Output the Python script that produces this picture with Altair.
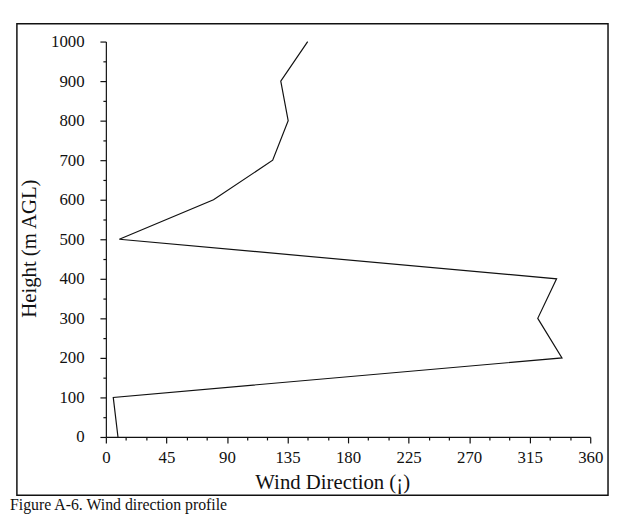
import altair as alt
import pandas as pd

# Data (wind direction profile)
heights = [0, 100, 200, 300, 400, 500, 600, 700, 800, 900, 1000]
directions = [9, 5.5, 339, 321, 335, 10, 80, 124, 135.5, 130, 150]

x_ticks = list(range(0, 361, 15))
y_ticks = list(range(0, 1001, 50))
x_title = "Wind Direction (¡)"
y_title = "Height (m AGL)"
caption = "Figure A-6. Wind direction profile"

FONT = "Liberation Serif"
INK = "#111111"

df = pd.DataFrame({"height": heights, "direction": directions})

line = alt.Chart(df).mark_line(color=INK, strokeWidth=1.2).encode(
    x=alt.X(
        "direction:Q",
        scale=alt.Scale(domain=[0, 360], nice=False, zero=False),
        axis=alt.Axis(
            values=x_ticks,
            format="d",
            labelExpr="datum.value % 45 === 0 ? datum.label : ''",
            tickSize={"condition": {"test": "datum.value % 45 === 0", "value": 6}, "value": 3},
            labelOverlap=False,
            labelFlush=False,
            labelPadding=7,
            grid=False,
            title=x_title,
            titleX=229,
            titleY=52,
            titleBaseline="alphabetic",
            titleFontSize=21,
            titleFontWeight="normal",
        ),
    ),
    y=alt.Y(
        "height:Q",
        scale=alt.Scale(domain=[0, 1000], nice=False),
        axis=alt.Axis(
            values=y_ticks,
            format="d",
            labelExpr="datum.value % 100 === 0 ? datum.label : ''",
            tickSize={"condition": {"test": "datum.value % 100 === 0", "value": 6}, "value": 3},
            labelOverlap=False,
            labelFlush=False,
            labelPadding=16,
            grid=False,
            title=y_title,
            titleX=-77,
            titleY=209,
            titleBaseline="middle",
            titleAlign="center",
            titleFontSize=21,
            titleFontWeight="normal",
        ),
    ),
    order=alt.Order("height:Q"),
)

dummy = pd.DataFrame({"a": [0]})

frame = alt.Chart(dummy).mark_rect(fill="transparent", stroke=INK, strokeWidth=1.5).encode(
    x=alt.value(-90),
    x2=alt.value(508),
    y=alt.value(-18),
    y2=alt.value(459),
)

cap = alt.Chart(pd.DataFrame({"t": [caption]})).mark_text(
    align="left", baseline="alphabetic", font=FONT, fontSize=16, color=INK
).encode(
    x=alt.value(-97),
    y=alt.value(474),
    text="t:N",
)

chart = alt.layer(frame, line, cap).properties(
    width=490,
    height=400,
    autosize=alt.AutoSizeParams(type="none"),
    padding={"left": 99, "top": 31, "right": 20, "bottom": 78},
).configure_view(
    stroke=None
).configure_axis(
    labelFont=FONT,
    titleFont=FONT,
    labelFontSize=17,
    labelColor=INK,
    titleColor=INK,
    domainColor=INK,
    tickColor=INK,
    domainWidth=1.2,
    tickWidth=1.2,
)

chart.save("out.html", embed_options={"renderer": "svg", "actions": False})
